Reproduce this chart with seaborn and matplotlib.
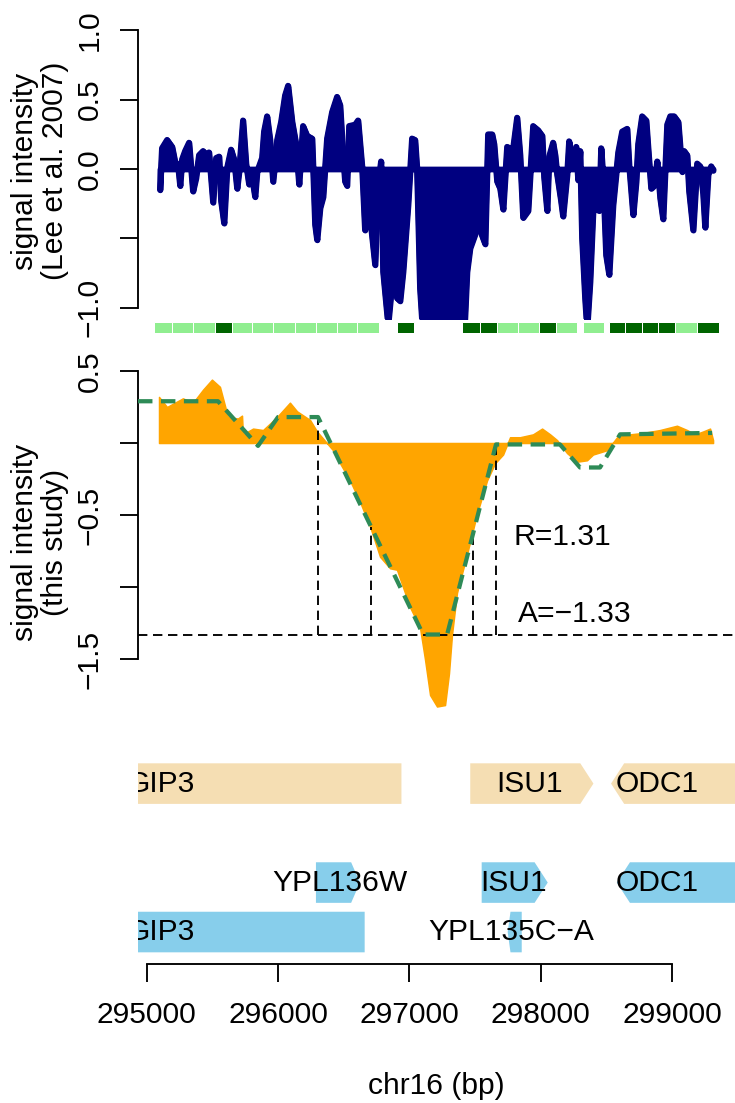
import numpy as np
import pandas as pd
import matplotlib
matplotlib.use("Agg")
import matplotlib.pyplot as plt
import seaborn as sns
from matplotlib.patches import Polygon

# ---------------- data ----------------
# Lee et al. 2007 signal (top panel)
lee_pos = [295101, 295116, 295155, 295193, 295215, 295238, 295254, 295269, 295292, 295322,
           295352, 295375, 295398, 295429, 295459, 295474, 295505, 295528, 295551, 295566,
           295589, 295612, 295642, 295665, 295688, 295703, 295733, 295756, 295779, 295802,
           295825, 295840, 295878, 295893, 295916, 295939, 295962, 295993, 296023, 296053,
           296076, 296107, 296137, 296160, 296190, 296221, 296259, 296282, 296297, 296320,
           296343, 296373, 296411, 296449, 296472, 296495, 296510, 296525, 296541, 296587,
           296609, 296640, 296662, 296701, 296739, 296762, 296784, 296800, 296838, 296876,
           296906, 296929, 296952, 296990, 297020, 297043, 297058, 297081, 297104, 297119,
           297173, 297180, 297188, 297272, 297348, 297417, 297439, 297462, 297500, 297516,
           297538, 297577, 297599, 297630, 297645, 297668, 297691, 297714, 297744, 297767,
           297790, 297820, 297843, 297866, 297904, 297942, 297980, 298011, 298026, 298049,
           298064, 298094, 298110, 298125, 298155, 298170, 298201, 298216, 298239, 298254,
           298270, 298285, 298300, 298315, 298338, 298353, 298376, 298399, 298422, 298445,
           298460, 298475, 298498, 298521, 298551, 298574, 298590, 298620, 298658, 298673,
           298704, 298727, 298742, 298772, 298803, 298818, 298841, 298864, 298887, 298910,
           298932, 298963, 298986, 299016, 299047, 299077, 299092, 299115, 299130, 299161,
           299191, 299214, 299237, 299252, 299275, 299298, 299313]
lee_val = [-0.15, 0.15, 0.21, 0.16, 0.055, 0.03, -0.12, 0.07, 0.13, 0.19,
           -0.16, -0.065, 0.10, 0.13, 0.10, 0.12, -0.24, 0.08, 0.09, -0.23,
           -0.39, 0.01, 0.14, 0.07, -0.14, -0.02, 0.35, 0.04, -0.11, -0.06,
           -0.20, -0.02, 0.08, 0.27, 0.38, 0.21, -0.09, 0.21, 0.34, 0.53,
           0.60, 0.34, 0.18, -0.11, 0.31, 0.24, 0.22, -0.40, -0.51, -0.28,
           -0.20, 0.22, 0.41, 0.52, 0.46, 0.10, -0.09, -0.12, 0.31, 0.32,
           0.35, 0.01, -0.44, -0.35, -0.69, -0.11, 0.055, -0.74, -1.12, -0.74,
           -0.93, -0.95, -0.74, -0.26, 0.22, 0.21, 0.0, -0.86, -1.2, -1.2,
           -1.2, -0.88, -1.2, -1.2, -1.2, -1.2, -0.74, -0.57, -0.47, -0.40,
           -0.44, -0.54, 0.25, 0.25, 0.18, -0.09, -0.14, -0.29, 0.16, 0.15,
           0.15, 0.37, 0.10, -0.35, -0.30, 0.31, 0.28, 0.24, -0.06, -0.30,
           0.09, 0.19, 0.10, -0.04, -0.23, -0.34, -0.04, 0.20, 0.08, 0.07,
           0.16, -0.08, 0.13, -0.50, -0.93, -1.15, -0.81, -0.30, -0.29, -0.30,
           0.15, -0.06, -0.62, -0.76, -0.26, -0.04, 0.12, 0.27, 0.29, 0.03,
           -0.33, -0.09, 0.18, 0.38, 0.35, 0.15, -0.14, -0.12, 0.055, -0.21,
           -0.36, 0.32, 0.38, 0.38, 0.34, -0.02, 0.13, 0.10, -0.16, -0.44,
           0.04, 0.02, -0.18, -0.42, -0.04, 0.02, -0.01]

# this study signal (middle panel)
this_pos = [295094, 295155, 295276, 295353, 295429, 295497, 295558, 295619, 295695, 295726,
            295733, 295810, 295886, 295992, 296091, 296145, 296244, 296297, 296419, 296472,
            296548, 296625, 296701, 296777, 296853, 296906, 297005, 297081, 297119, 297158,
            297211, 297272, 297302, 297325, 297363, 297440, 297516, 297592, 297653, 297714,
            297767, 297843, 297942, 298011, 298072, 298125, 298201, 298277, 298353, 298399,
            298506, 298582, 298681, 298780, 298909, 299038, 299115, 299176, 299237, 299290,
            299313]
this_val = [0.32, 0.25, 0.31, 0.28, 0.37, 0.44, 0.39, 0.18, 0.17, 0.19,
            0.06, 0.10, 0.09, 0.18, 0.28, 0.22, 0.16, 0.08, -0.05, -0.14,
            -0.26, -0.41, -0.58, -0.79, -0.87, -0.88, -1.14, -1.28, -1.50, -1.75,
            -1.83, -1.82, -1.60, -1.33, -1.04, -0.77, -0.49, -0.26, -0.14, -0.08,
            0.04, 0.04, 0.06, 0.10, 0.06, 0.02, -0.07, -0.13, -0.12, -0.08,
            -0.05, 0.04, 0.06, 0.07, 0.09, 0.12, 0.09, 0.06, 0.08, 0.10,
            0.02]

# segmentation fit (green dashed)
seg_pos = [294934, 295543, 295848, 296000, 296305, 297105, 297288, 297660, 298147, 298300,
           298452, 298605, 299306]
seg_val = [0.29, 0.29, -0.02, 0.18, 0.18, -1.33, -1.33, -0.01, -0.01, -0.17,
           -0.17, 0.06, 0.07]

# markers of the fitted trough
vline_pos = [296305, 296708, 297485, 297660]
A_value = -1.33
R_label = "R=1.31"
A_label = "A=\u22121.33"
R_label_pos = (297797, -0.653)
A_label_pos = (297828, -1.19)

# probe tiles (green band)
tile_start = [295056, 295193, 295353, 295520, 295650, 295802, 295962, 296129, 296290, 296450,
              296602, 296906, 297401, 297538, 297668, 297828, 297988, 298117, 298323, 298521,
              298643, 298772, 298894, 299023, 299191]
tile_end = [295193, 295353, 295520, 295650, 295802, 295962, 296129, 296290, 296450, 296602,
            296769, 297036, 297538, 297668, 297828, 297988, 298117, 298277, 298483, 298643,
            298772, 298894, 299023, 299191, 299359]
tile_state = [0, 0, 0, 1, 0, 0, 0, 0, 0, 0, 0, 1, 1, 1, 0, 0, 1, 0, 0, 1, 1, 1, 1, 0, 1]

# transcripts (beige track)
tx_name = ["GIP3", "ISU1", "ODC1"]
tx_start = [292700, 297464, 298536]
tx_end = [296940, 298402, 299700]
tx_strand = ["-", "+", "-"]
tx_label_x = [295109, 297919, 298886]

# ORFs (blue tracks)
orf_name = ["YPL136W", "ISU1", "ODC1", "GIP3", "YPL135C\u2212A"]
orf_start = [296289, 297551, 298580, 292700, 297749]
orf_end = [296624, 298054, 299700, 296660, 297856]
orf_strand = ["+", "+", "-", "-", "-"]
orf_row = [1, 1, 1, 0, 0]
orf_label_x = [296472, 297797, 298886, 295109, 297780]

x_ticks = [295000, 296000, 297000, 298000, 299000]
x_lim = (294934, 299480)
top_ticks = [-1.0, -0.5, 0.0, 0.5, 1.0]
top_ticklabels = ["\u22121.0", "", "0.0", "0.5", "1.0"]
mid_ticks = [-1.5, -1.0, -0.5, 0.0, 0.5]
mid_ticklabels = ["\u22121.5", "", "\u22120.5", "", "0.5"]

# ---------------- style ----------------
sns.set_theme(style="white")
plt.rcParams["font.family"] = ["Liberation Sans", "DejaVu Sans"]
plt.rcParams["font.size"] = 12
plt.rcParams["axes.unicode_minus"] = True
plt.rcParams["text.color"] = "black"
plt.rcParams["axes.labelcolor"] = "black"
plt.rcParams["xtick.color"] = "black"
plt.rcParams["ytick.color"] = "black"

W, H, DPI = 735, 1103, 180
fig = plt.figure(figsize=(W / DPI, H / DPI), dpi=DPI)
fig.patch.set_facecolor("white")


def rect(l, t, r, b):
    return [l / W, 1 - b / H, (r - l) / W, (b - t) / H]


ax1 = fig.add_axes(rect(138, 19, 735, 319))
axb = fig.add_axes(rect(138, 322, 735, 333))
ax2 = fig.add_axes(rect(138, 356.6, 735, 716.6))
ax3 = fig.add_axes(rect(138, 745, 735, 964))

for ax in (ax1, axb, ax2, ax3):
    ax.set_xlim(*x_lim)
    ax.set_facecolor("white")
    for s in ax.spines.values():
        s.set_visible(False)
        s.set_linewidth(0.75)
        s.set_color("black")
    ax.tick_params(direction="out", length=7.2, width=0.75, labelsize=12,
                   colors="black", pad=6.5)

# ---- top panel ----
coll = ax1.fill_between(lee_pos, 0, lee_val, facecolor="navy", edgecolor="navy", lw=2.3)
coll.set_joinstyle("round")
sns.lineplot(x=lee_pos, y=lee_val, ax=ax1, color="navy", lw=2.3, sort=False,
             estimator=None)
ax1.lines[-1].set_solid_joinstyle("round")
ax1.lines[-1].set_solid_capstyle("round")
ax1.set_ylim(-1.08, 1.08)
ax1.spines["left"].set_visible(True)
ax1.spines["left"].set_bounds(-1, 1)
ax1.set_yticks(top_ticks)
ax1.set_yticklabels(top_ticklabels, rotation=90, va="center")
ax1.tick_params(axis="y", left=True)
ax1.set_xticks([])
ax1.set_xlabel("")
ax1.set_ylabel("")

# ---- probe band ----
tile_colors = ["#90EE90" if s == 0 else "#006400" for s in tile_state]
axb.bar(tile_start, 1, width=np.array(tile_end) - np.array(tile_start), bottom=0,
        align="edge", color=tile_colors, edgecolor="white", linewidth=0.4)
axb.set_ylim(0, 1)
axb.set_xticks([])
axb.set_yticks([])

# ---- middle panel ----
ax2.fill_between(this_pos, 0, this_val, facecolor="orange", edgecolor="orange",
                 lw=0.6, zorder=1)
vtop = np.interp(vline_pos, seg_pos, seg_val)
ax2.vlines(vline_pos, A_value, vtop, colors="black", lw=0.75,
           linestyles=[(0, (5, 3))], zorder=2)
ax2.axhline(A_value, color="black", lw=0.75, dashes=(5, 3), zorder=2)
sns.lineplot(x=seg_pos, y=seg_val, ax=ax2, color="seagreen", lw=1.7, sort=False,
             estimator=None, zorder=3)
ax2.lines[-1].set_dashes((3.4, 2.0))
ax2.text(*R_label_pos, R_label, ha="left", va="center", fontsize=12)
ax2.text(*A_label_pos, A_label, ha="left", va="center", fontsize=12)
ax2.set_ylim(-1.9, 0.6)
ax2.spines["left"].set_visible(True)
ax2.spines["left"].set_bounds(-1.5, 0.5)
ax2.set_yticks(mid_ticks)
ax2.set_yticklabels(mid_ticklabels, rotation=90, va="center")
ax2.tick_params(axis="y", left=True)
ax2.set_xticks([])
ax2.set_xlabel("")
ax2.set_ylabel("")

# ---- gene tracks ----
def arrow_poly(s, e, strand, yc, h):
    y0, y1 = yc - h / 2, yc + h / 2
    head = min(100, 0.2 * (e - s))
    if strand == "+":
        return [(s, y0), (e - head, y0), (e, yc), (e - head, y1), (s, y1)]
    return [(s, yc), (s + head, y0), (e, y0), (e, y1), (s + head, y1)]


box_h = 0.82
tx_row_y = 3.0
for n, s, e, st, lx in zip(tx_name, tx_start, tx_end, tx_strand, tx_label_x):
    ax3.add_patch(Polygon(arrow_poly(s, e, st, tx_row_y, box_h), closed=True,
                          facecolor="wheat", edgecolor="none", zorder=1))
    ax3.text(lx, tx_row_y, n, ha="center", va="center", fontsize=12, zorder=3,
             clip_on=True)
for n, s, e, st, r, lx in zip(orf_name, orf_start, orf_end, orf_strand, orf_row,
                              orf_label_x):
    ax3.add_patch(Polygon(arrow_poly(s, e, st, r, box_h), closed=True,
                          facecolor="skyblue", edgecolor="none", zorder=1))
    ax3.text(lx, r, n, ha="center", va="center", fontsize=12, zorder=3, clip_on=True)

ax3.set_ylim(-0.646, 3.78)
ax3.spines["bottom"].set_visible(True)
ax3.spines["bottom"].set_bounds(x_ticks[0], x_ticks[-1])
ax3.set_xticks(x_ticks)
ax3.set_xticklabels([str(t) for t in x_ticks])
ax3.tick_params(axis="x", bottom=True, pad=7.5)
ax3.set_yticks([])

# ---- axis titles ----
fig.text(40 / W, 1 - 171 / H, "signal intensity\n(Lee et al. 2007)", rotation=90,
         ha="center", va="center", fontsize=12, multialignment="center",
         linespacing=1.05)
fig.text(40 / W, 1 - 542 / H, "signal intensity\n(this study)", rotation=90,
         ha="center", va="center", fontsize=12, multialignment="center",
         linespacing=1.05)
fig.text(436.5 / W, 1 - 1086 / H, "chr16 (bp)", ha="center", va="center", fontsize=12)

fig.savefig("out.png", dpi=DPI, facecolor="white")
